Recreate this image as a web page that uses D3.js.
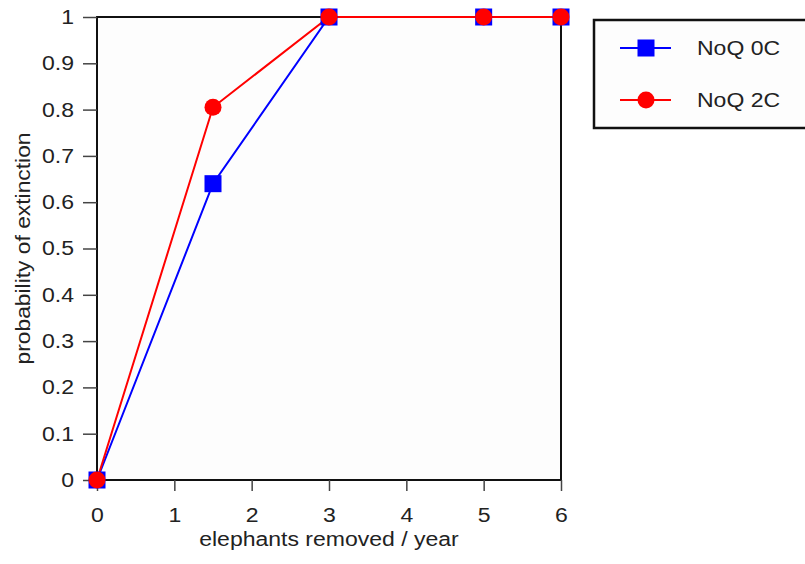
<!DOCTYPE html>
<html>
<head>
<meta charset="utf-8">
<script src="https://cdn.jsdelivr.net/npm/d3@7"></script>
<style>
  body { margin: 0; background: #fff; }
  text { font-family: "Liberation Sans", Arial, sans-serif; fill: #222; }
</style>
</head>
<body>
<script>
var xValues = [0, 1.5, 3, 5, 6];
var noq0C = [0, 0.64, 1, 1, 1];
var noq2C = [0, 0.805, 1, 1, 1];
var seriesNames = ["NoQ 0C", "NoQ 2C"];
var xTicks = [0, 1, 2, 3, 4, 5, 6];
var yTicks = [0, 0.1, 0.2, 0.3, 0.4, 0.5, 0.6, 0.7, 0.8, 0.9, 1];

var margin = { top: 17, right: 244, bottom: 84, left: 97 },
    width = 805 - margin.left - margin.right,
    height = 564 - margin.top - margin.bottom;

// the reference text is a bit wider than Liberation Sans
var stretch = 1.15;

var svg = d3.select("body").append("svg")
    .attr("width", 805)
    .attr("height", 564);

var g = svg.append("g")
    .attr("transform", "translate(" + margin.left + "," + margin.top + ")");

var xScale = d3.scaleLinear().domain([0, 6]).range([0, width]);
var yScale = d3.scaleLinear().domain([0, 1]).range([height, 0]);

g.append("rect")
    .attr("width", width).attr("height", height)
    .attr("fill", "#fdfdfd")
    .attr("stroke", "#111").attr("stroke-width", 2);

var xAxis = d3.axisBottom(xScale).tickValues(xTicks).tickSize(11).tickPadding(17)
    .tickFormat(d3.format("d"));
var yAxis = d3.axisLeft(yScale).tickValues(yTicks).tickSize(14).tickPadding(9)
    .tickFormat(function (d) { return d === 0 || d === 1 ? d : d3.format(".1f")(d); });

g.append("g")
    .attr("class", "x axis")
    .attr("transform", "translate(0," + height + ")")
    .call(xAxis);

g.append("g")
    .attr("class", "y axis")
    .call(yAxis);

g.selectAll(".axis .domain").remove();
g.selectAll(".axis .tick line").attr("stroke", "#444").attr("stroke-width", 1.5);
g.selectAll(".axis text").attr("font-size", 20).attr("fill", "#222");

// axis labels
g.append("text")
    .attr("class", "wide")
    .attr("x", width / 2).attr("y", height + 66)
    .attr("text-anchor", "middle").attr("font-size", 20)
    .text("elephants removed / year");

g.append("text")
    .attr("transform", "translate(" + (-67) + "," + (height / 2) + ") rotate(-90)")
    .attr("text-anchor", "middle").attr("font-size", 20)
    .attr("textLength", 232).attr("lengthAdjust", "spacingAndGlyphs")
    .text("probability of extinction");

var line = d3.line()
    .x(function (d) { return xScale(d[0]); })
    .y(function (d) { return yScale(d[1]); });

var blueData = xValues.map(function (x, i) { return [x, noq0C[i]]; });
var redData = xValues.map(function (x, i) { return [x, noq2C[i]]; });

g.append("path").datum(blueData)
    .attr("d", line).attr("fill", "none")
    .attr("stroke", "#0000ff").attr("stroke-width", 2);

g.append("path").datum(redData)
    .attr("d", line).attr("fill", "none")
    .attr("stroke", "#ff0000").attr("stroke-width", 2);

g.selectAll(".sq").data(blueData).enter().append("rect")
    .attr("class", "sq")
    .attr("x", function (d) { return xScale(d[0]) - 8.5; })
    .attr("y", function (d) { return yScale(d[1]) - 8.5; })
    .attr("width", 17).attr("height", 17)
    .attr("fill", "#0000ff");

g.selectAll(".dot").data(redData).enter().append("circle")
    .attr("class", "dot")
    .attr("cx", function (d) { return xScale(d[0]); })
    .attr("cy", function (d) { return yScale(d[1]); })
    .attr("r", 8.5)
    .attr("fill", "#ff0000");

// legend
var legend = svg.append("g").attr("transform", "translate(594,20)");
legend.append("rect")
    .attr("width", 220).attr("height", 108)
    .attr("fill", "#fdfdfd").attr("stroke", "#111").attr("stroke-width", 2.5);

var legendRows = [
    { name: seriesNames[0], color: "#0000ff", shape: "square", y: 28 },
    { name: seriesNames[1], color: "#ff0000", shape: "circle", y: 80 }
];
legendRows.forEach(function (r) {
    legend.append("line")
        .attr("x1", 26).attr("x2", 77).attr("y1", r.y).attr("y2", r.y)
        .attr("stroke", r.color).attr("stroke-width", 2);
    if (r.shape === "square") {
        legend.append("rect").attr("x", 43.5).attr("y", r.y - 8.5)
            .attr("width", 17).attr("height", 17).attr("fill", r.color);
    } else {
        legend.append("circle").attr("cx", 52).attr("cy", r.y).attr("r", 8.5)
            .attr("fill", r.color);
    }
    legend.append("text")
        .attr("class", "wide")
        .attr("x", 103).attr("y", r.y + 7)
        .attr("font-size", 20)
        .text(r.name);
});

// widen horizontal text
svg.selectAll(".axis text, text.wide").each(function () {
    var len = this.getComputedTextLength();
    d3.select(this).attr("textLength", len * stretch).attr("lengthAdjust", "spacingAndGlyphs");
});
</script>
</body>
</html>
